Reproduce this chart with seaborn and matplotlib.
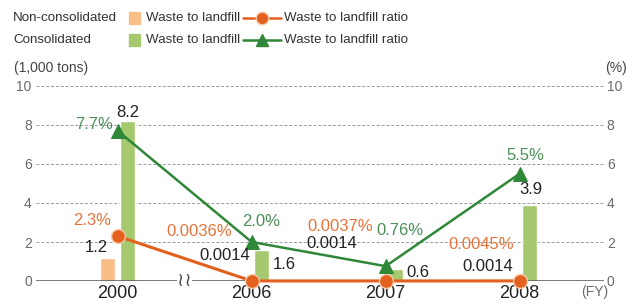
import pandas as pd
import seaborn as sns
import matplotlib.pyplot as plt
from matplotlib.patches import Rectangle
from matplotlib.lines import Line2D

years = ["2000", "2006", "2007", "2008"]
nc_waste = [1.2, 0.0014, 0.0014, 0.0014]
cons_waste = [8.2, 1.6, 0.6, 3.9]
nc_ratio = [2.3, 0.0036, 0.0037, 0.0045]
cons_ratio = [7.7, 2.0, 0.76, 5.5]
nc_waste_labels = ["1.2", "0.0014", "0.0014", "0.0014"]
cons_waste_labels = ["8.2", "1.6", "0.6", "3.9"]
nc_ratio_labels = ["2.3%", "0.0036%", "0.0037%", "0.0045%"]
cons_ratio_labels = ["7.7%", "2.0%", "0.76%", "5.5%"]
yticks = [0, 2, 4, 6, 8, 10]

ORANGE_BAR = "#F9BE86"
GREEN_BAR = "#A6C96F"
ORANGE = "#E3601F"
GREEN = "#2E8838"
ORANGE_TXT = "#E8733A"
GREEN_TXT = "#4B8F57"
DARK = "#222222"
GREY = "#6A6A6A"

sns.set_theme(style="white")
plt.rcParams["font.family"] = ["Liberation Sans", "DejaVu Sans"]

W, H = 633, 304
fig = plt.figure(figsize=(W / 100, H / 100), dpi=100)
ax = fig.add_axes([36 / W, 23 / H, (604 - 36) / W, 195 / H])

df = pd.DataFrame({
    "year": years * 2,
    "waste": nc_waste + cons_waste,
    "scope": ["Non-consolidated"] * 4 + ["Consolidated"] * 4,
})
sns.barplot(data=df, x="year", y="waste", hue="scope",
            palette=[ORANGE_BAR, GREEN_BAR], width=0.3, gap=0.27,
            saturation=1, legend=False, ax=ax)

ax.set_xlim(-0.61, 3.63)
ax.set_ylim(0, 10)
ax.set_yticks(yticks)
ax.set_xlabel("")
ax.set_ylabel("")
ax.yaxis.grid(True, linestyle=(0, (3, 2)), color="#9a9a9a", linewidth=0.7)
ax.set_axisbelow(True)
for s in ax.spines.values():
    s.set_visible(False)
ax.axhline(0, color="#555555", lw=1.1, zorder=3)
ax.tick_params(axis="y", length=0, pad=3, labelsize=10, labelcolor=GREY)
ax.tick_params(axis="x", length=0, pad=3, labelsize=13, labelcolor=DARK)

ax2 = ax.twinx()
ax2.set_ylim(0, 10)
ax2.set_yticks(yticks)
for s in ax2.spines.values():
    s.set_visible(False)
ax2.tick_params(axis="y", length=0, pad=2, labelsize=10, labelcolor=GREY)
ax2.set_ylabel("")

xs = list(range(len(years)))
sns.lineplot(x=xs, y=nc_ratio, ax=ax2, color=ORANGE, lw=2.2, marker="o",
             markersize=10, markeredgecolor="#F6C9A8", markeredgewidth=1,
             clip_on=False, zorder=4)
sns.lineplot(x=xs, y=cons_ratio, ax=ax2, color=GREEN, lw=1.8, marker="^",
             markersize=10, markeredgecolor=GREEN, clip_on=False, zorder=5)
ax2.set_xlim(-0.61, 3.63)

# break mark on the axis between 2000 and 2006
ax.text(0.5, 0, "\u2240\u2240", ha="center", va="center", fontsize=14,
        color="#555555", family="DejaVu Sans", zorder=6,
        bbox=dict(fc="white", ec="none", pad=0.1))

# label offsets in pixels: (ha, dx, dy)
cons_ratio_off = [("right", -5, 6), ("center", 9, 21), ("left", -9, 36), ("center", 6, 18)]
nc_ratio_off = [("center", -26, 16), ("right", -20, 49), ("right", -13, 54), ("right", -6, 36)]
nc_waste_off = [("right", -10, 10), ("right", -2, 25), ("right", -29, 37), ("right", -6, 14)]
cons_waste_off = [("center", 10, 9), ("left", 21, -15), ("left", 21, -3), ("center", 11, 15)]


def put(vals, labels, offs, color):
    for i, (v, t, (ha, dx, dy)) in enumerate(zip(vals, labels, offs)):
        ax2.annotate(t, (i, v), xytext=(dx, dy), textcoords="offset pixels",
                     ha=ha, va="center", fontsize=12, color=color, zorder=7)


put(cons_ratio, cons_ratio_labels, cons_ratio_off, GREEN_TXT)
put(nc_ratio, nc_ratio_labels, nc_ratio_off, ORANGE_TXT)
put(nc_waste, nc_waste_labels, nc_waste_off, DARK)
put(cons_waste, cons_waste_labels, cons_waste_off, DARK)

# axis captions
fig.text(14 / W, 1 - 68 / H, "(1,000 tons)", va="center", fontsize=10, color="#444444")
fig.text(616 / W, 1 - 68 / H, "(%)", ha="center", va="center", fontsize=10, color="#444444")
fig.text(595 / W, 1 - 292 / H, "(FY)", ha="center", va="center", fontsize=10, color=GREY)

# legend
rows = [("Non-consolidated", ORANGE_BAR, ORANGE, "o", "#F6C9A8", 18),
        ("Consolidated", GREEN_BAR, GREEN, "^", GREEN, 40)]
for name, bar_c, line_c, mk, mec, yp in rows:
    y = 1 - yp / H
    fig.text(13 / W, y, name, va="center", fontsize=9.6, color="#333333")
    fig.add_artist(Rectangle((129 / W, y - 5.5 / H), 11 / W, 11 / H,
                             transform=fig.transFigure, color=bar_c))
    fig.text(146 / W, y, "Waste to landfill", va="center", fontsize=9.6, color="#333333")
    fig.add_artist(Line2D([243 / W, 281 / W], [y, y], transform=fig.transFigure,
                          color=line_c, lw=1.8))
    fig.add_artist(Line2D([262 / W], [y], transform=fig.transFigure, color=line_c,
                          marker=mk, markersize=9, markeredgecolor=mec, lw=0))
    fig.text(284 / W, y, "Waste to landfill ratio", va="center", fontsize=9.6, color="#333333")

fig.savefig("out.png", dpi=100)
